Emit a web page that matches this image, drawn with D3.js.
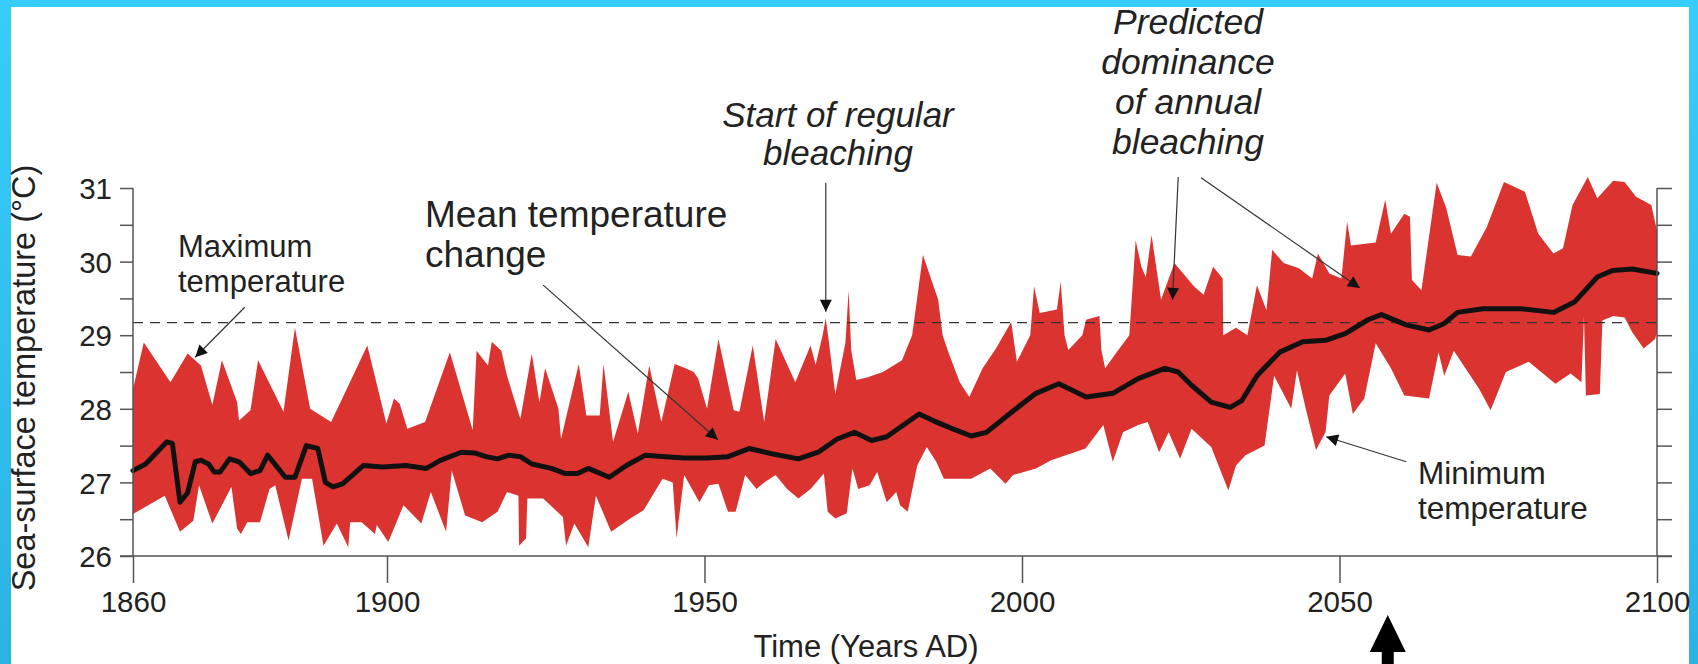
<!DOCTYPE html>
<html>
  <head>
    <title>Sea-surface temperature and bleaching</title>
    <style>
      body { margin: 0; overflow: hidden; }
      svg { display: block; font-family: 'Liberation Sans', Arial, sans-serif; }
    </style>
  </head>
  <body>
    <script src="https://cdnjs.cloudflare.com/ajax/libs/d3/7.8.5/d3.min.js"></script>
    <script>
      // values: [year, °C]
      let maxSeries = [
        [1860, 28.27], [1861.7, 28.9], [1865.9, 28.36], [1868.6, 28.75], [1870.7, 28.59],
        [1872.5, 28.05], [1874, 28.66], [1876.4, 28.09], [1876.7, 27.84], [1878.5, 27.98],
        [1879.7, 28.66], [1883.7, 27.96], [1885.5, 29.1], [1887.9, 28.0], [1891.2, 27.82],
        [1896.9, 28.86], [1899.9, 27.8], [1901.1, 28.14], [1902, 28.07], [1903.2, 27.73],
        [1906, 27.82], [1909.9, 28.77], [1913.5, 27.71], [1914.1, 28.79], [1915.9, 28.59],
        [1916.5, 28.91], [1918, 28.79], [1918.9, 28.45], [1921, 27.86], [1922.8, 28.75],
        [1924, 28.09], [1924.9, 28.55], [1927, 28.0], [1927.4, 27.59], [1930.2, 28.61],
        [1931.4, 27.91], [1933.5, 27.91], [1934.1, 28.61], [1935.6, 27.55], [1938, 28.23],
        [1939.5, 27.66], [1941.3, 28.59], [1943.2, 27.82], [1945.3, 28.61], [1947, 28.55],
        [1948.3, 28.5], [1949, 28.41], [1950.4, 28.0], [1952.2, 28.95], [1954.6, 27.98],
        [1955.5, 27.96], [1957.6, 28.86], [1959.4, 27.82], [1961.2, 28.95], [1964.3, 28.36],
        [1966.7, 28.86], [1967.5, 28.6], [1968.6, 29.0], [1969.1, 29.23], [1969.6, 28.9],
        [1970.6, 28.2], [1972.2, 28.9], [1972.7, 29.61], [1973.1, 28.8], [1973.9, 28.39],
        [1975.7, 28.43], [1978.1, 28.5], [1981.1, 28.66], [1982.7, 29.0], [1984.4, 30.09],
        [1986.8, 29.48], [1987.5, 29.0], [1988.4, 28.77], [1990.2, 28.36], [1991.7, 28.16],
        [1993.8, 28.55], [1995.9, 28.82], [1998.3, 29.18], [1999.2, 28.64], [2001.3, 29.0],
        [2001.9, 29.66], [2002.8, 29.3], [2005.5, 29.35], [2006.1, 29.73], [2006.7, 29.0],
        [2007.3, 28.8], [2009.5, 29.0], [2010.1, 29.21], [2012.2, 29.26], [2012.5, 28.8],
        [2013.1, 28.55], [2014.9, 28.77], [2016.9, 29.0], [2017.9, 30.29], [2018.8, 29.93],
        [2019.5, 29.79], [2020.4, 30.36], [2021.9, 29.48], [2024, 29.98], [2027.1, 29.66],
        [2028.6, 29.55], [2030.1, 29.93], [2031.6, 29.77], [2031.7, 29.0], [2033.7, 29.1],
        [2035.5, 29.0], [2037, 29.68], [2038.5, 29.34], [2039.4, 30.16], [2041.2, 29.98],
        [2043.6, 29.91], [2045.7, 29.77], [2046.6, 30.11], [2048.4, 29.84], [2050.3, 29.77],
        [2051.2, 30.54], [2051.8, 30.22], [2055.7, 30.26], [2057.2, 30.84], [2058.1, 30.38],
        [2060.2, 30.65], [2061.1, 30.61], [2061.4, 29.75], [2062.9, 29.61], [2065.3, 31.07],
        [2066.8, 30.73], [2068.6, 30.09], [2070.7, 30.07], [2073.2, 30.47], [2075.9, 31.08],
        [2079.2, 30.95], [2081.3, 30.38], [2083.7, 30.11], [2085.2, 30.18], [2086.7, 30.77],
        [2089.1, 31.15], [2090.6, 30.86], [2093.1, 31.1], [2094.9, 31.08], [2096.7, 30.88],
        [2099.1, 30.77], [2100, 30.42]
      ];

      let minSeries = [
        [1860, 26.57], [1865, 26.82], [1867.4, 26.33], [1869.5, 26.48], [1870.4, 26.96],
        [1872.5, 26.44], [1875.5, 26.94], [1876.4, 26.37], [1877, 26.3], [1878, 26.46],
        [1880, 26.46], [1881.5, 26.91], [1882.4, 26.96], [1884.5, 26.21], [1886.6, 27.05],
        [1888.2, 27.05], [1890, 26.14], [1892.1, 26.44], [1893.9, 26.12], [1894.2, 26.46],
        [1896, 26.46], [1898.1, 26.3], [1898.4, 26.42], [1900.2, 26.19], [1902.6, 26.69],
        [1905.4, 26.44], [1906.9, 26.87], [1909.3, 26.33], [1910.2, 27.16], [1912.3, 26.55],
        [1915, 26.46], [1917.4, 26.6], [1918.9, 26.87], [1920.7, 26.82], [1920.8, 26.14],
        [1921.9, 26.24], [1922.1, 26.78], [1924.6, 26.78], [1927.7, 26.53], [1928.2, 26.14],
        [1929.5, 26.44], [1931.7, 26.12], [1932.9, 26.82], [1935.3, 26.33], [1938.3, 26.51],
        [1940.4, 26.62], [1943.4, 27.05], [1945, 27.0], [1945.6, 26.24], [1946.8, 27.1],
        [1949.2, 26.73], [1950.7, 26.96], [1952.2, 26.98], [1953.7, 26.6], [1954.9, 26.6],
        [1956.4, 27.1], [1958.2, 26.91], [1959.4, 27.0], [1961.2, 27.1], [1963, 26.91],
        [1964.8, 26.78], [1966.7, 26.91], [1968.8, 27.12], [1969.4, 26.6], [1970.6, 26.51],
        [1972.4, 26.58], [1973.3, 27.19], [1974.2, 26.91], [1976, 26.96], [1977.2, 27.14],
        [1978.7, 26.73], [1980.2, 26.87], [1980.8, 26.69], [1982, 26.6], [1983.5, 27.23],
        [1985, 27.48], [1986.5, 27.28], [1987.7, 27.05], [1992, 27.05], [1995, 27.19],
        [1997.4, 26.98], [1998.6, 27.1], [2002.2, 27.19], [2004.6, 27.3], [2010, 27.46],
        [2012.8, 27.78], [2014.3, 27.28], [2015.9, 27.68], [2018.3, 27.78], [2019.8, 27.82],
        [2021.6, 27.41], [2023.1, 27.68], [2024.9, 27.32], [2026.7, 27.73], [2029.8, 27.48],
        [2032.5, 26.89], [2033.7, 27.23], [2035.2, 27.37], [2038.2, 27.5], [2039.7, 28.45],
        [2042.4, 28.0], [2043.3, 28.52], [2044.8, 27.96], [2046.3, 27.44], [2047.8, 27.68],
        [2048.4, 28.18], [2050.9, 28.48], [2052.1, 27.93], [2053.9, 28.14], [2055.7, 28.89],
        [2058.1, 28.55], [2060.2, 28.18], [2064.1, 28.14], [2065.6, 28.77], [2066.5, 28.45],
        [2068, 28.79], [2072, 28.27], [2073.8, 27.98], [2076.2, 28.5], [2079.8, 28.64],
        [2084, 28.34], [2086.4, 28.48], [2088.1, 28.36], [2088.5, 29.26], [2088.8, 28.18],
        [2091, 28.2], [2091.4, 29.2], [2093.1, 29.26], [2094.9, 29.24], [2096.1, 29.04],
        [2097.9, 28.82], [2099.7, 28.95], [2100, 29.04]
      ];

      let meanSeries = [
        [1860, 27.16], [1862, 27.25], [1865.3, 27.55], [1866.2, 27.53], [1867.4, 26.73],
        [1868.6, 26.86], [1869.8, 27.28], [1870.7, 27.3], [1871.9, 27.25], [1872.8, 27.14],
        [1873.7, 27.14], [1875.2, 27.32], [1876.7, 27.28], [1878.5, 27.12], [1880, 27.16],
        [1881.2, 27.37], [1884, 27.07], [1885.5, 27.07], [1887.3, 27.5], [1889.1, 27.46],
        [1890.3, 27.0], [1891.5, 26.94], [1893, 26.98], [1896.3, 27.23], [1899.3, 27.21],
        [1903, 27.23], [1906.2, 27.19], [1908.4, 27.3], [1911.7, 27.41], [1913.8, 27.4],
        [1915.6, 27.35], [1917.4, 27.32], [1919.2, 27.37], [1921, 27.35], [1922.8, 27.25],
        [1925.9, 27.19], [1928.1, 27.12], [1930, 27.12], [1931.7, 27.19], [1935, 27.07],
        [1937.7, 27.23], [1940.7, 27.37], [1943.8, 27.35], [1946.8, 27.33], [1950.4, 27.33],
        [1953.7, 27.35], [1957, 27.46], [1960.6, 27.39], [1964.8, 27.32], [1967.9, 27.41],
        [1970.9, 27.59], [1973.6, 27.68], [1976.3, 27.57], [1978.7, 27.62], [1983.8, 27.93],
        [1986, 27.84], [1989, 27.73], [1992, 27.63], [1994.4, 27.68], [1998, 27.93],
        [2002.2, 28.21], [2005.8, 28.34], [2010.1, 28.16], [2014.3, 28.21], [2018.3, 28.41],
        [2022.5, 28.55], [2024.6, 28.5], [2026.7, 28.32], [2029.8, 28.09], [2032.8, 28.02],
        [2034.6, 28.11], [2037, 28.45], [2040.6, 28.77], [2044.2, 28.91], [2047.8, 28.93],
        [2050.9, 29.02], [2054.5, 29.21], [2056.6, 29.28], [2060.5, 29.14], [2064.1, 29.07],
        [2066.5, 29.16], [2068.6, 29.31], [2072.6, 29.36], [2078.6, 29.36], [2083.7, 29.31],
        [2087, 29.45], [2090.6, 29.79], [2093, 29.88], [2096.1, 29.9], [2100, 29.84]
      ];

      let xTicks = [1860, 1900, 1950, 2000, 2050, 2100];
      let yMinorTicks = d3.range(26, 31.01, 0.5);
      let bleachingThreshold = 29.17;
      let markerYear = 2057.6;

      let width = 1698, height = 664;

      let svg = d3.select('body')
                  .append('svg')
                  .attr('width', width)
                  .attr('height', height);

      let defs = svg.append('defs');
      let grad = defs.append('linearGradient')
                     .attr('id', 'frame')
                     .attr('x1', 0).attr('y1', 0).attr('x2', 0).attr('y2', 1);
      grad.append('stop').attr('offset', '0%').attr('stop-color', '#37cdfb');
      grad.append('stop').attr('offset', '100%').attr('stop-color', '#2bb3e4');

      defs.append('marker')
          .attr('id', 'head')
          .attr('viewBox', '0 0 10 10')
          .attr('refX', 10).attr('refY', 5)
          .attr('markerUnits', 'userSpaceOnUse')
          .attr('markerWidth', 15).attr('markerHeight', 12)
          .attr('orient', 'auto')
        .append('path')
          .attr('d', 'M0,0 L10,5 L0,10 Z')
          .attr('fill', '#111');

      // blue frame and white panel
      svg.append('rect').attr('width', width).attr('height', height).attr('fill', 'url(#frame)');
      svg.append('rect')
         .attr('x', 11).attr('y', 7)
         .attr('width', 1678).attr('height', height - 7)
         .attr('fill', '#ffffff');

      let xScale = d3.scaleLinear()
                     .domain([1860, 2100])
                     .range([133, 1657]);

      let yScale = d3.scaleLinear()
                     .domain([26, 31])
                     .range([556, 188]);

      let line = d3.line()
                   .x((d) => xScale(d[0]))
                   .y((d) => yScale(d[1]));

      // range band between max and min
      let bandPts = maxSeries.concat(minSeries.slice().reverse());
      svg.append('path')
         .attr('d', line(bandPts) + 'Z')
         .attr('fill', '#db3430');

      // bleaching threshold
      svg.append('line')
         .attr('x1', xScale(1860)).attr('x2', xScale(2100))
         .attr('y1', yScale(bleachingThreshold)).attr('y2', yScale(bleachingThreshold))
         .attr('stroke', '#333')
         .attr('stroke-width', 1.2)
         .attr('stroke-dasharray', '10,7');

      // mean line
      svg.append('path')
         .attr('d', line(meanSeries))
         .attr('fill', 'none')
         .attr('stroke', '#111')
         .attr('stroke-width', 5)
         .attr('stroke-linejoin', 'round')
         .attr('stroke-linecap', 'round');

      // axes
      let axisColor = '#555';
      let xAxis = svg.append('g')
                     .attr('transform', 'translate(0,' + yScale(26) + ')')
                     .call(d3.axisBottom(xScale).tickValues(xTicks).tickSize(27).tickFormat(d3.format('d')));
      xAxis.select('.domain').remove();
      svg.append('line')
         .attr('x1', xScale(1860) - 13).attr('x2', xScale(2100) + 15)
         .attr('y1', yScale(26)).attr('y2', yScale(26))
         .attr('stroke', axisColor).attr('stroke-width', 1.5);
      xAxis.selectAll('line').attr('stroke', axisColor).attr('stroke-width', 1.5);
      xAxis.selectAll('text')
           .attr('font-size', 29.5)
           .attr('fill', '#222')
           .attr('dy', 0)
           .attr('y', 56);

      let yAxis = svg.append('g')
                     .attr('transform', 'translate(' + xScale(1860) + ',0)')
                     .call(d3.axisLeft(yScale).tickValues(yMinorTicks).tickSize(13)
                             .tickFormat((d) => Number.isInteger(d) ? d : ''));
      yAxis.select('.domain').remove();
      yAxis.selectAll('line').attr('stroke', axisColor).attr('stroke-width', 1.5);
      yAxis.selectAll('text')
           .attr('font-size', 29.5)
           .attr('fill', '#222')
           .attr('x', -21)
           .attr('dy', '0.36em');
      svg.append('line')
         .attr('x1', xScale(1860)).attr('x2', xScale(1860))
         .attr('y1', yScale(31)).attr('y2', yScale(26))
         .attr('stroke', axisColor).attr('stroke-width', 1.5);

      let yRight = svg.append('g')
                      .attr('transform', 'translate(' + xScale(2100) + ',0)')
                      .call(d3.axisRight(yScale).tickValues(yMinorTicks).tickSize(15).tickFormat(''));
      yRight.select('.domain').remove();
      yRight.selectAll('line').attr('stroke', axisColor).attr('stroke-width', 1.5);
      svg.append('line')
         .attr('x1', xScale(2100)).attr('x2', xScale(2100))
         .attr('y1', yScale(31)).attr('y2', yScale(26))
         .attr('stroke', axisColor).attr('stroke-width', 1.5);

      // axis titles
      svg.append('text')
         .attr('transform', 'translate(35,378) rotate(-90)')
         .attr('text-anchor', 'middle')
         .attr('font-size', 32.5)
         .attr('fill', '#222')
         .text('Sea-surface temperature (°C)');

      svg.append('text')
         .attr('x', 866).attr('y', 657)
         .attr('text-anchor', 'middle')
         .attr('font-size', 31)
         .attr('fill', '#222')
         .text('Time (Years AD)');

      // annotations
      let arrows = [
        [[1877.6, 29.38], [1869.8, 28.70]],
        [[1924.6, 29.68], [1952.1, 27.58]],
        [[1969.1, 31.07], [1969.1, 29.32]],
        [[2024.6, 31.15], [2023.7, 29.48]],
        [[2028.2, 31.14], [2053.2, 29.64]],
        [[2060.5, 27.28], [2047.9, 27.62]]
      ];
      svg.selectAll('.ann')
         .data(arrows)
         .enter()
           .append('line')
           .attr('class', 'ann')
           .attr('x1', (d) => xScale(d[0][0]))
           .attr('y1', (d) => yScale(d[0][1]))
           .attr('x2', (d) => xScale(d[1][0]))
           .attr('y2', (d) => yScale(d[1][1]))
           .attr('stroke', '#333')
           .attr('stroke-width', 1.2)
           .attr('marker-end', 'url(#head)');

      function label(lines, x, y0, step, size, anchor, italic) {
        let t = svg.append('text')
                   .attr('font-size', size)
                   .attr('fill', '#222')
                   .attr('text-anchor', anchor)
                   .attr('font-style', italic ? 'italic' : 'normal');
        lines.forEach((s, i) => {
          t.append('tspan').attr('x', x).attr('y', y0 + i * step).text(s);
        });
      }

      label(['Maximum', 'temperature'], 178, 257, 35, 31, 'start', false);
      label(['Mean temperature', 'change'], 425, 227, 40, 37, 'start', false);
      label(['Start of regular', 'bleaching'], 838, 127, 38, 35, 'middle', true);
      label(['Predicted', 'dominance', 'of annual', 'bleaching'], 1188, 34, 40, 35.5, 'middle', true);
      label(['Minimum', 'temperature'], 1418, 484, 35, 31.5, 'start', false);

      // big arrow under the axis
      let ax = xScale(markerYear);
      svg.append('path')
         .attr('d', 'M' + ax + ',615 L' + (ax + 18) + ',652 L' + (ax + 6) + ',652 L' + (ax + 6) + ',' + height +
                    ' L' + (ax - 6) + ',' + height + ' L' + (ax - 6) + ',652 L' + (ax - 18) + ',652 Z')
         .attr('fill', '#000');
    </script>
  </body>
</html>
